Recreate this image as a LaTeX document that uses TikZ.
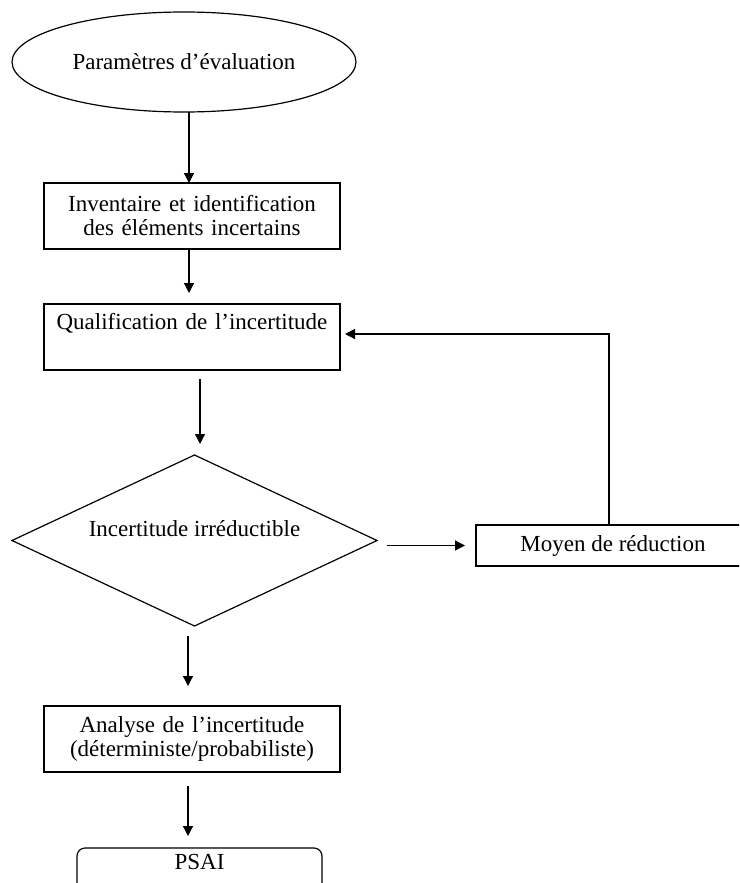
\documentclass[tikz,border=0pt]{standalone}
\usepackage{fontspec}
\setmainfont{Liberation Serif}
\usetikzlibrary{positioning,shapes.geometric,arrows.meta}

\begin{document}
\begin{tikzpicture}[x=0.5pt, y=-0.5pt, ->, >={Triangle[length=5pt,width=5pt]},
        line width=0.6pt, font=\fontsize{11.5}{12}\selectfont,
        every node/.style={inner sep=0pt, outer sep=0pt, align=center},
        box/.style={draw, rectangle, minimum width=148pt, minimum height=33pt, text width=148pt}]
        \useasboundingbox (0,0) rectangle (739,883);
        \clip (0,0) rectangle (739,883);

        \node[draw, ellipse, minimum width=172pt, minimum height=50pt] (param) at (184,62) {Paramètres d’évaluation};
        \node[box, below=35.5pt of param, xshift=4pt] (inv) {Inventaire et identification\\des éléments incertains};
        \node[box, below=27.5pt of inv, text height=12.5pt, text depth=20.5pt] (qual) {Qualification de l’incertitude};
        \node[draw, diamond, aspect=2.13, minimum width=182.5pt, minimum height=85.5pt, text height=8pt, text depth=12pt,
              below=42.5pt of qual, xshift=1.25pt] (irr) {Incertitude irréductible};
        \node[draw, minimum width=137pt, minimum height=20.5pt, right=49.5pt of irr, yshift=-2.5pt] (moy) {Moyen de réduction};
        \node[box, below=40pt of irr, xshift=-1.25pt] (ana) {Analyse de l’incertitude\\(déterministe/probabiliste)};
        \node[draw, rounded corners=4pt, minimum width=122.5pt, text height=10.5pt, text depth=11pt, below=38pt of ana, xshift=3.75pt] (psai) {PSAI};

        \draw ([xshift=2.5pt]param.south) -- ([xshift=2.5pt]param.south |- inv.north);
        \draw[shorten >=5.5pt] ([xshift=-1.5pt]inv.south) -- ([xshift=-1.5pt]inv.south |- qual.north);
        \draw[shorten <=4.5pt, shorten >=5.5pt] ([xshift=4pt]qual.south) -- ([xshift=4pt]qual.south |- irr.north);
        \draw[shorten <=5pt, shorten >=5.5pt] (irr.east |- moy.west) -- (moy.west);
        \draw[shorten >=2.5pt] ([xshift=-2pt]moy.north) |- ([yshift=1.5pt]qual.east);
        \draw[shorten <=5pt, shorten >=10pt] ([xshift=-2pt]ana.north |- irr.south) -- ([xshift=-2pt]ana.north);
        \draw[shorten <=7pt, shorten >=6pt] ([xshift=-2pt]ana.south) -- ([xshift=-2pt]ana.south |- psai.north);
\end{tikzpicture}
\end{document}
